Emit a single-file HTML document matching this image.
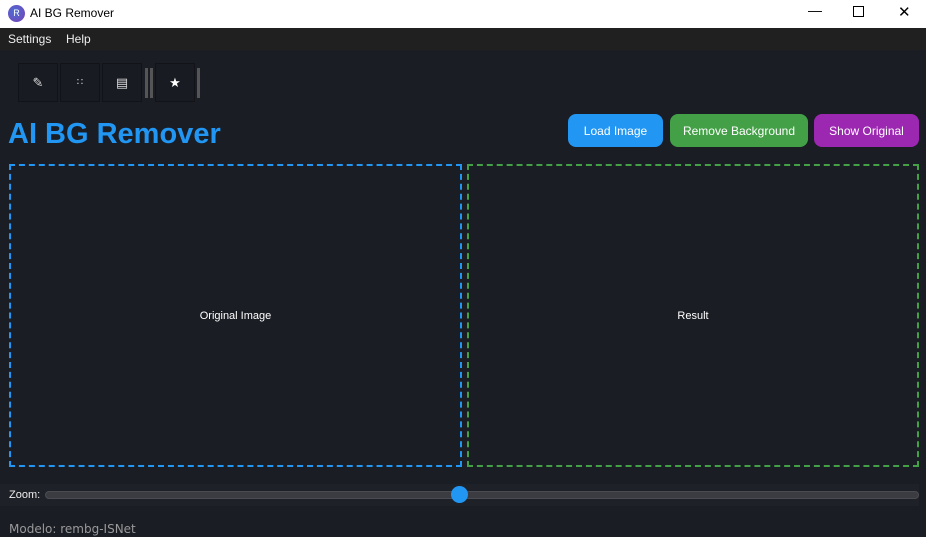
<!DOCTYPE html>
<html><head><meta charset="utf-8"><style>
*{margin:0;padding:0;box-sizing:border-box}
body{width:926px;height:537px;overflow:hidden;background:#1a1d24;font-family:"Liberation Sans","DejaVu Sans",sans-serif;position:relative;color:#fff}
.abs{position:absolute}
.btn{position:absolute;top:114px;height:33px;border-radius:8px;color:#fff;font-size:12px;display:flex;align-items:center;justify-content:center}
.tb{position:absolute;top:63px;width:40px;height:39px;background:#181b21;border:1px solid #111318;display:flex;align-items:center;justify-content:center;color:#ddd;font-size:13px}
</style></head><body>
<div class="abs" style="left:0;top:0;width:926px;height:28px;background:#fff"></div>
<div class="abs" style="left:8px;top:5px;width:17px;height:17px;border-radius:50%;background:radial-gradient(circle at 40% 40%,#4a6fd8,#7a3fb0);color:#fff;font-size:9px;text-align:center;line-height:17px">R</div>
<div class="abs" style="left:30px;top:6px;font-size:12px;color:#000">AI BG Remover</div>
<div class="abs" style="left:808px;top:2px;font-size:14px;color:#000">&#8212;</div>
<div class="abs" style="left:853px;top:6px;width:11px;height:11px;border:1px solid #000"></div>
<div class="abs" style="left:898px;top:3px;font-size:15px;color:#000;font-weight:normal">&#10005;</div>
<div class="abs" style="left:0;top:28px;width:926px;height:22px;background:#202020"></div>
<div class="abs" style="left:8px;top:32px;font-size:12px;color:#eee">Settings</div>
<div class="abs" style="left:66px;top:32px;font-size:12px;color:#eee">Help</div>
<div class="tb" style="left:18px">&#9998;</div>
<div class="tb" style="left:60px;font-size:10px">&#8759;</div>
<div class="tb" style="left:102px">&#9636;</div>
<div class="abs" style="left:145px;top:68px;width:3px;height:30px;background:#555"></div>
<div class="abs" style="left:150px;top:68px;width:3px;height:30px;background:#555"></div>
<div class="tb" style="left:155px;color:#fff">&#9733;</div>
<div class="abs" style="left:197px;top:68px;width:3px;height:30px;background:#555"></div>
<div class="abs" style="left:8px;top:118px;font-size:29px;font-weight:bold;color:#2196f3">AI BG Remover</div>
<div class="btn" style="left:568px;width:95px;background:#2196f3">Load Image</div>
<div class="btn" style="left:670px;width:138px;background:#43a047">Remove Background</div>
<div class="btn" style="left:814px;width:105px;background:#9c27b0">Show Original</div>
<div class="abs" style="left:9px;top:164px;width:453px;height:303px;border:2px dashed #2196f3;display:flex;align-items:center;justify-content:center;font-size:11px">Original Image</div>
<div class="abs" style="left:467px;top:164px;width:452px;height:303px;border:2px dashed #43a047;display:flex;align-items:center;justify-content:center;font-size:11px">Result</div>
<div class="abs" style="left:0;top:484px;width:919px;height:22px;background:#1f2128"></div>
<div class="abs" style="left:9px;top:489px;font-size:11px;color:#eee">Zoom:</div>
<div class="abs" style="left:45px;top:491px;width:874px;height:8px;border-radius:4px;background:#3a3c42;border:1px solid #4a4c52"></div>
<div class="abs" style="left:451px;top:486px;width:17px;height:17px;border-radius:50%;background:#2196f3"></div>
<div class="abs" style="left:9px;top:522px;font-size:12px;color:#999;font-family:'DejaVu Sans',sans-serif">Modelo: rembg-ISNet</div>
</body></html>
